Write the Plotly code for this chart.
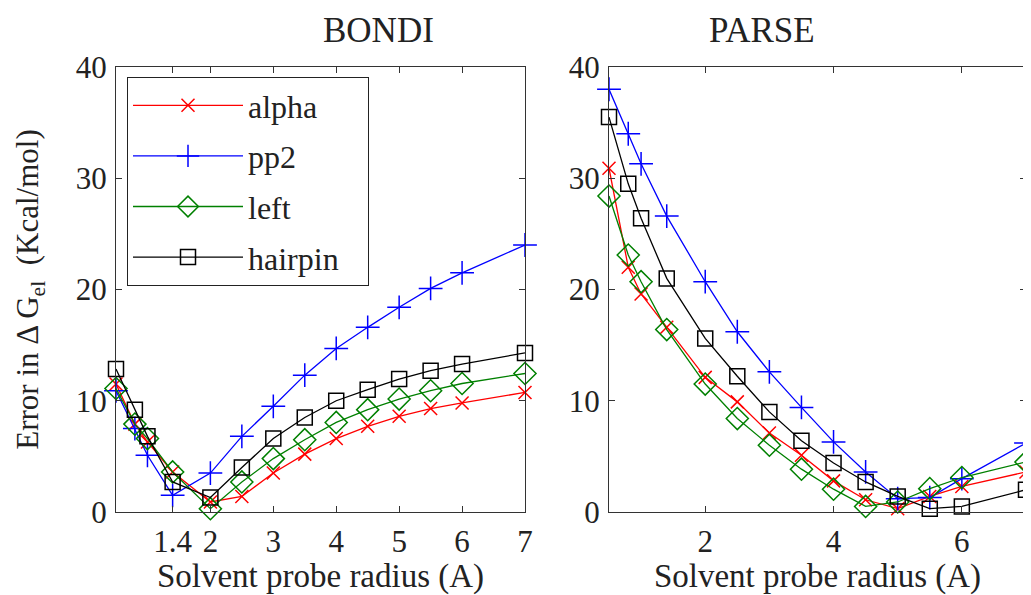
import plotly.graph_objects as go

radius = [0.5, 0.8, 1.0, 1.4, 2, 2.5, 3, 3.5, 4, 4.5, 5, 5.5, 6, 7]

bondi_alpha = [11.5, 7.9, 6.3, 3.6, 0.9, 1.4, 3.5, 5.2, 6.6, 7.7, 8.6, 9.3, 9.8, 10.75]
bondi_pp2 = [10.9, 7.5, 5.1, 1.5, 3.5, 6.8, 9.5, 12.3, 14.7, 16.6, 18.4, 20.1, 21.5, 24.0]
bondi_left = [11.1, 7.9, 6.6, 3.6, 0.3, 2.7, 4.8, 6.5, 8.05, 9.2, 10.15, 10.9, 11.55, 12.45]
bondi_hairpin = [12.85, 9.2, 6.8, 2.7, 1.3, 4.0, 6.6, 8.5, 10.0, 11.0, 11.95, 12.7, 13.3, 14.3]

parse_alpha = [30.9, 22.0, 19.6, 16.6, 12.1, 9.9, 7.1, 5.1, 2.8, 1.1, 0.3, 1.4, 2.3, 3.6]
parse_pp2 = [38.0, 34.0, 31.3, 26.6, 20.7, 16.2, 12.6, 9.4, 6.3, 3.6, 1.2, 1.3, 3.0, 6.2]
parse_left = [28.4, 23.1, 20.7, 16.4, 11.5, 8.4, 6.0, 3.85, 2.05, 0.5, 0.9, 2.1, 3.1, 4.5]
parse_hairpin = [35.5, 29.5, 26.4, 21.0, 15.6, 12.2, 9.0, 6.4, 4.4, 2.7, 1.4, 0.3, 0.5, 2.0]

series_names = ["alpha", "pp2", "left", "hairpin"]
bondi_ticks = [1.4, 2, 3, 4, 5, 6, 7]
bondi_ticktext = ["1.4", "2", "3", "4", "5", "6", "7"]
parse_ticks = [2, 4, 6]
y_ticks = [0, 10, 20, 30, 40]

colors = ["#ff0000", "#0000ff", "#008000", "#000000"]
symbols = ["x-thin-open", "cross-thin-open", "diamond-open", "square-open"]
sizes = [13, 17, 17, 15]

FONT = "Liberation Serif"
TXT = "#222222"

# page is drawn with an 8px body margin, so the figure is 8px smaller
W, H = 1023, 587
ML, MR, MT, MB = 108, 5, 59, 83

fig = go.Figure()
bondi = [bondi_alpha, bondi_pp2, bondi_left, bondi_hairpin]
parse = [parse_alpha, parse_pp2, parse_left, parse_hairpin]
for i, name in enumerate(series_names):
    for data, xa, ya, show in [(bondi[i], "x", "y", True), (parse[i], "x2", "y2", False)]:
        fig.add_trace(go.Scatter(
            x=radius, y=data, xaxis=xa, yaxis=ya,
            name=name + "\u00a0\u00a0\u00a0",
            mode="lines+markers", legendgroup=name, showlegend=show,
            cliponaxis=False,
            line=dict(color=colors[i], width=1.3),
            marker=dict(symbol=symbols[i], size=sizes[i], color=colors[i],
                        line=dict(color=colors[i], width=1.5)),
        ))

axis_common = dict(
    showline=True, linecolor="#333333", linewidth=1.2, mirror="ticks",
    ticks="inside", ticklen=6, tickcolor="#333333", tickwidth=1,
    showgrid=False, zeroline=False,
    tickfont=dict(family=FONT, size=31, color=TXT),
)

pw = W - ML - MR
ph = H - MT - MB
def px(xp):
    return (xp - 8 - ML) / pw
def py(yp):
    return (H - MB - (yp - 8)) / ph

left_dom = [0, px(525)]
right_dom = [px(609), 1.0]

fig.update_layout(
    width=W, height=H,
    margin=dict(l=ML, r=MR, t=MT, b=MB),
    plot_bgcolor="white", paper_bgcolor="white",
    font=dict(family=FONT, color=TXT),
    xaxis=dict(domain=left_dom, range=[0.5, 7], tickvals=bondi_ticks,
               ticktext=bondi_ticktext, ticklabelstandoff=2,
               title=dict(text="Solvent probe radius (A)", font=dict(family=FONT, size=33), standoff=2),
               automargin=False, **axis_common),
    yaxis=dict(domain=[0, 1], range=[0, 40], tickvals=y_ticks, ticklabelstandoff=2,
               title=dict(text="Error in \u0394 G<sub>el</sub>  (Kcal/mol)", font=dict(family=FONT, size=31), standoff=27),
               automargin=False, **axis_common),
    xaxis2=dict(domain=right_dom, range=[0.5, 7], tickvals=parse_ticks, ticklabelstandoff=2,
                title=dict(text="Solvent probe radius (A)", font=dict(family=FONT, size=33), standoff=2),
                automargin=False, anchor="y2", **axis_common),
    yaxis2=dict(domain=[0, 1], range=[0, 40], tickvals=y_ticks, ticklabelstandoff=2,
                automargin=False, anchor="x2", **axis_common),
    legend=dict(x=px(127), y=py(77), xanchor="left", yanchor="top",
                bgcolor="white", bordercolor=TXT, borderwidth=1,
                font=dict(family=FONT, size=32, color=TXT),
                itemwidth=110, tracegroupgap=6),
    annotations=[
        dict(text="BONDI", x=(left_dom[0] + left_dom[1]) / 2, y=py(30), xref="paper", yref="paper",
             showarrow=False, font=dict(family=FONT, size=35, color=TXT), yanchor="middle"),
        dict(text="PARSE", x=(right_dom[0] + right_dom[1]) / 2, y=py(30), xref="paper", yref="paper",
             showarrow=False, font=dict(family=FONT, size=35, color=TXT), yanchor="middle"),
    ],
)

fig.write_html("out.html")
